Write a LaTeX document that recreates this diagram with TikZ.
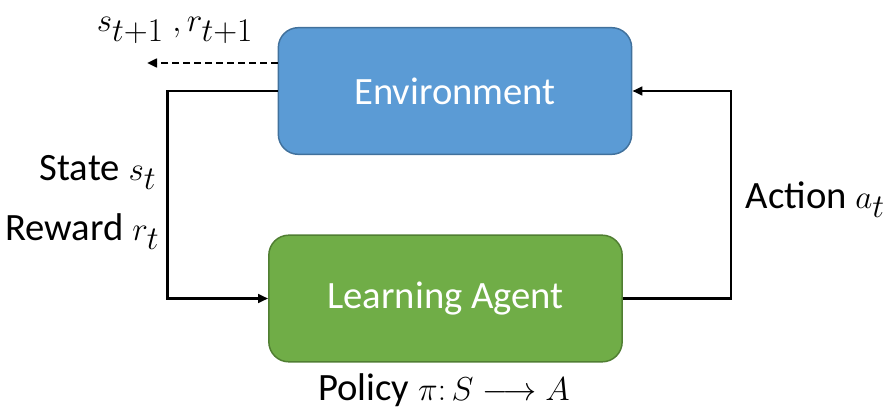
\documentclass[tikz,border=0pt]{standalone}
\usepackage{fontspec}
\setmainfont{Carlito}
\usepackage{amsmath}
\DeclareMathSizes{29}{32}{24}{18}
\usetikzlibrary{positioning}
\usetikzlibrary{arrows.meta}
\definecolor{envblue}{HTML}{5B9BD5}
\definecolor{envedge}{HTML}{41719C}
\definecolor{agentgreen}{HTML}{70AD47}
\definecolor{agentedge}{HTML}{507E32}
\tikzset{box/.style = {rounded corners = 15pt, line width = 1.1pt, minimum width = 265pt,
    minimum height = 95pt, text = white, font = \fontsize{29}{34}\selectfont}}
\tikzset{every picture/.style={
    every path/.style={line width = 1.9pt},
    >={Triangle[length = 7.5pt, width = 6.5pt]},
}}

\begin{document}
\begin{tikzpicture}[x = 0.75pt, y = -0.75pt, every node/.style={font = \fontsize{29}{34}\selectfont}]
      \useasboundingbox (0, 0) rectangle (887, 410);
      \node[box, fill = envblue, draw = envedge] (env) at (455, 91) {Environment};
      \node[box, fill = agentgreen, draw = agentedge] (agent) at (445.5, 298.5) {Learning Agent};
      \coordinate (next) at (147, 63);
      \draw[->] (env.west) -- ++(-110, 0) |- (agent.west);
      \draw[->] (agent.east) -- ++(108, 0) |- (env.east);
      \draw[->, dash pattern = on 5.2pt off 3pt] (env.west |- next) -- (next);
      \node at (175, 30) {$s_{t+1}\ ,r_{t+1}$};
      \node at (162, 172) [anchor = east] {State $s_t$};
      \node at (165, 232) [anchor = east] {Reward $r_t$};
      \node at (740, 200) [anchor = west] {Action $a_t$};
      \node at (444, 390) {Policy $\pi{:}\,S \longrightarrow A$};
    \end{tikzpicture}
\end{document}
